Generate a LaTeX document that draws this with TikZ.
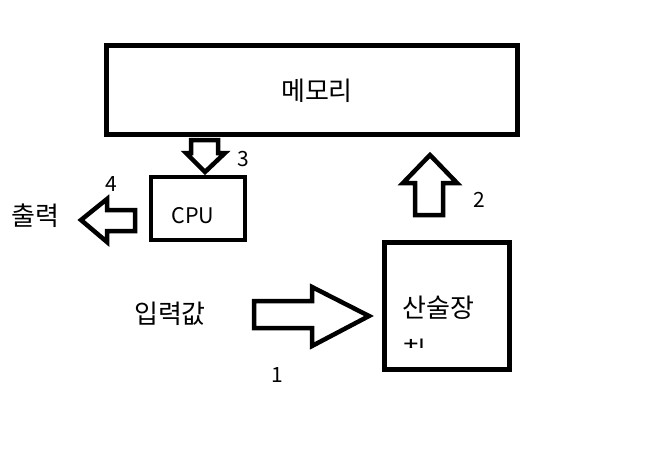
\documentclass[tikz,border=0pt]{standalone}
\usepackage{fontspec}
\setmainfont{Noto Sans CJK KR}
\begin{document}
\begin{tikzpicture}[x=1pt,y=-1pt]
\tikzset{
  boxnode/.style={draw=black, line width=5pt, inner sep=0pt, fill=none},
  lbl/.style={inner sep=0pt, font=\fontsize{26pt}{30pt}\selectfont},
  numlbl/.style={inner sep=0pt, font=\fontsize{21pt}{25pt}\selectfont},
  blockarrow/.style={draw=black, line width=4.5pt, line join=miter, miter limit=10},
}
\useasboundingbox[fill=white] (0,0) rectangle (646,455);
% boxes
\node (mem) [boxnode, minimum width=411pt, minimum height=89pt] at (312,90) {};
\node (cpu) [boxnode, line width=4pt, minimum width=94pt, minimum height=63pt] at (198,208.5) {};
\node (alu) [boxnode, minimum width=125pt, minimum height=127pt] at (447,306) {};
% texts
\node (memtxt) [lbl] at (317,91) {메모리};
\node (cputxt) [numlbl, font=\fontsize{21.5pt}{25pt}\selectfont] at (193,216) {CPU};
\node (alutxt) [lbl, anchor=west] at (402,308) {산술장};
\begin{scope}
  \clip (395,330) rectangle (440,347);
  \node (alutxt2) [lbl, anchor=north west] at (402,339) {치};
\end{scope}
\node (out) [lbl] at (35,216) {출력};
\node (inp) [lbl] at (170,314) {입력값};
\node (n1) [numlbl] at (277,375) {1};
\node (n2) [numlbl] at (479,200) {2};
\node (n3) [numlbl] at (243,159) {3};
\node (n4) [numlbl] at (111,184) {4};
% arrow 3 (down, memory -> cpu)
\draw[blockarrow] (191,140) -- (218,140) -- (218,153) -- (225,153) -- (205,172) -- (186,153) -- (191,153) -- cycle;
% arrow 4 (left, cpu -> output)
\draw[blockarrow] (135,210) -- (107,210) -- (107,199) -- (81,220) -- (107,242) -- (107,231) -- (135,231) -- cycle;
% arrow 2 (up, alu -> memory)
\draw[blockarrow] (415,215) -- (415,183) -- (403,183) -- (430,155) -- (457,183) -- (443,183) -- (443,215) -- cycle;
% arrow 1 (right, input -> alu)
\draw[blockarrow] (254,301) -- (312,301) -- (312,287) -- (369,316) -- (312,346) -- (312,328) -- (254,328) -- cycle;
\end{tikzpicture}
\end{document}
